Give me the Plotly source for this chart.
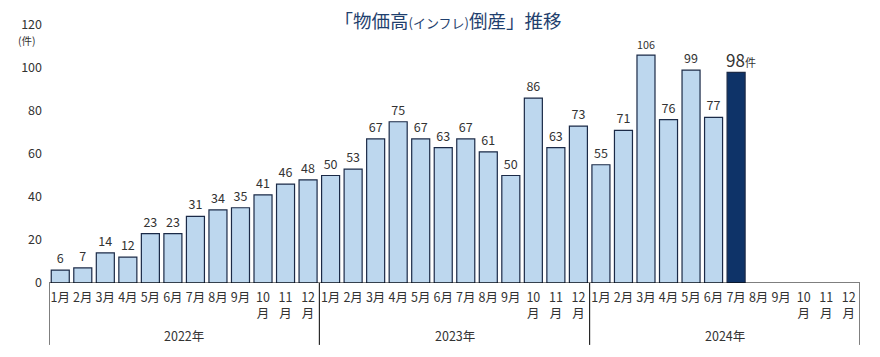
import plotly.graph_objects as go

years = ["2022年", "2023年", "2024年"]
months = ["1月", "2月", "3月", "4月", "5月", "6月", "7月", "8月", "9月", "10<br>月", "11<br>月", "12<br>月"]
v2022 = [6, 7, 14, 12, 23, 23, 31, 34, 35, 41, 46, 48]
v2023 = [50, 53, 67, 75, 67, 63, 67, 61, 50, 86, 63, 73]
v2024 = [55, 71, 106, 76, 99, 77, 98]

values = v2022 + v2023 + v2024
n_slots = len(years) * len(months)
xs = list(range(len(values)))
light = "#BDD7EE"
dark = "#0E3368"
colors = [light] * (len(values) - 1) + [dark]
texts = [str(v) for v in values[:-1]] + [""]
FONT = "Noto Sans CJK JP"

fig = go.Figure()
fig.add_trace(go.Bar(
    x=xs, y=values, width=0.8,
    marker=dict(color=colors, line=dict(color="#1B2A47", width=1.2)),
    text=texts, textposition="outside", cliponaxis=False,
    textfont=dict(size=12.5, color="#333333", family=FONT),
    hoverinfo="skip",
))
fig.add_annotation(x=xs[-1], y=values[-1], text=f"{values[-1]}<span style='font-size:11px'>件</span>",
                   showarrow=False, yanchor="bottom", xanchor="center", xshift=5, yshift=-2,
                   font=dict(size=17, color="#333333", family=FONT))

tickvals = list(range(n_slots))
ticktext = months * len(years)

shapes = []
for k in range(len(years) + 1):
    xb = k * len(months) - 0.5
    shapes.append(dict(type="line", xref="x", yref="paper", x0=xb, x1=xb, y0=0, y1=-0.24,
                       line=dict(color="#000000", width=1)))
shapes.append(dict(type="line", xref="x", yref="y", x0=-0.5, x1=n_slots - 0.5, y0=0, y1=0,
                   line=dict(color="#000000", width=1.2)))

for i, yr in enumerate(years):
    fig.add_annotation(x=i * len(months) + (len(months) - 1) / 2, y=-0.2016, xref="x", yref="paper",
                       text=yr, showarrow=False, yanchor="middle",
                       font=dict(size=12.5, color="#333333", family=FONT))

fig.add_annotation(x=-0.027, y=1.0, xref="paper", yref="paper", text="(件)", showarrow=False,
                   yanchor="middle", xanchor="center", yshift=-15,
                   font=dict(size=10.5, color="#333333", family=FONT))

fig.update_layout(
    template="none",
    width=880, height=357,
    margin=dict(l=41, r=28, t=17, b=82, autoexpand=False),
    paper_bgcolor="white", plot_bgcolor="white",
    showlegend=False,
    shapes=shapes,
    title=dict(text="「物価高<span style='font-size:13px'>(インフレ)</span>倒産」推移",
               x=0.5, xanchor="center", y=0.963, yanchor="middle",
               font=dict(size=18.5, color="#1F3F6E", family=FONT)),
    xaxis=dict(range=[-0.5, n_slots - 0.5], tickvals=tickvals, ticktext=ticktext,
               showgrid=False, showline=False, zeroline=False, ticks="", automargin=False,
               tickfont=dict(size=12.5, color="#333333", family=FONT),
               ticklabelstandoff=5, tickangle=0, fixedrange=True),
    yaxis=dict(range=[0, 120], tickvals=[0, 20, 40, 60, 80, 100, 120], showgrid=False,
               zeroline=False, showline=False, ticks="", automargin=False,
               tickfont=dict(size=12.5, color="#333333", family=FONT),
               ticklabelstandoff=6),
    bargap=0.2,
)

fig.write_html("out.html")
